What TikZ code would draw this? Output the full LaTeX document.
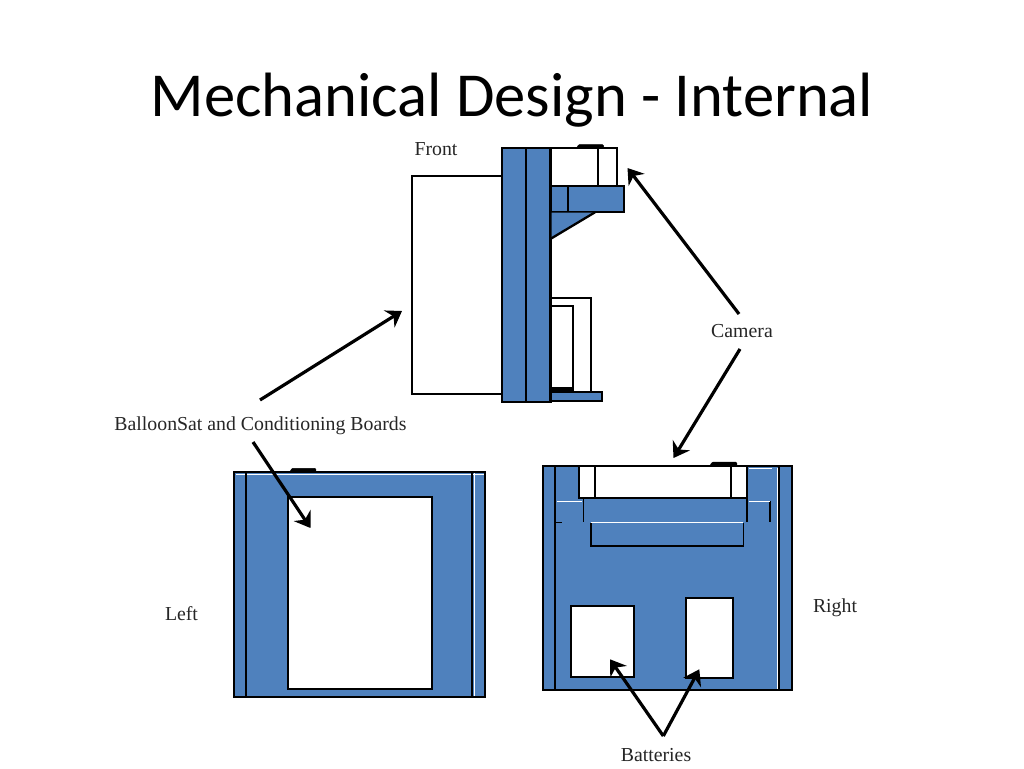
\documentclass[tikz,border=0pt]{standalone}
\usepackage{fontspec}
\setmainfont{Liberation Serif}
\newfontfamily\titlefont{Carlito}
\usetikzlibrary{arrows.meta}
\definecolor{partblue}{HTML}{4F81BD}
\tikzset{
  x=1pt,y=-1pt,
  part/.style={fill=partblue,draw=black,line width=2.3pt},
  hollow/.style={fill=white,draw=black,line width=2.3pt},
  edge/.style={draw=black,line width=2.3pt},
  thinedge/.style={draw=black,line width=1.6pt},
  glint/.style={draw=white,line width=1pt},
  knob/.style={fill=black,draw=black,line width=.5pt,rounded corners=1pt},
  lbl/.style={font=\fontsize{19.8}{21}\selectfont,inner sep=0pt,text=black!85},
  callout/.style={draw=black,line width=3.2pt,-{Stealth[inset=5pt,length=15pt,width=20pt]}},
}
\begin{document}
\begin{tikzpicture}
\useasboundingbox (0,0) rectangle (1024,768);
\fill[white] (0,0) rectangle (1024,768);
\node[font=\titlefont\fontsize{62.6}{64}\selectfont,inner sep=0pt] (title) at (512,100) {Mechanical Design - Internal};

% front view
\draw[hollow] (501.7,175.7) -- (411.7,175.7) -- (411.7,394) -- (501.7,394);
\draw[hollow] (550,148.3) -- (616.7,148.3) -- (616.7,185.7) -- (550,185.7);
\draw[edge] (598.3,148.3) -- (598.3,185.7);
\draw[knob] (576.7,148.3) -- (578.5,144.6) -- (603.3,144.6) -- (604,148.3) -- cycle;
\draw[part] (501.7,148.3) rectangle (550.5,402.3);
\draw[edge] (526,148.3) -- (526,402.3);
\draw[part] (550.5,185.7) rectangle (624,211.7);
\draw[edge] (567.7,185.7) -- (567.7,211.7);
\fill[partblue] (551.5,212.7) -- (594,212.7) -- (551.5,238.3) -- cycle;
\draw[edge] (551.5,238.3) -- (595,212.3);
\draw[edge] (550.5,298.3) -- (590.7,298.3) -- (590.7,391);
\draw[edge] (550.5,306) -- (572.7,306) -- (572.7,391);
\draw[part] (550.5,392) rectangle (601.7,401);
\draw[edge,line width=4pt] (550.5,389) -- (572.7,389);

% left view
\draw[part] (234.3,471.7) rectangle (485,697.3);
\draw[glint] (236,474.2) -- (483.5,474.2);
\draw[edge] (246,471.7) -- (246,697.3);
\draw[edge] (471.7,471.7) -- (471.7,697.3);
\draw[glint] (474,473) -- (474,696);
\draw[hollow] (287.7,496.7) rectangle (431.7,689.3);
\draw[knob] (290,471.7) -- (292,468.3) -- (315.7,468.3) -- (316,471.7) -- cycle;

% right view
\draw[part] (543.3,465.7) rectangle (791.7,690.3);
\draw[edge] (555,465.7) -- (555,690.3);
\draw[edge] (779.3,465.7) -- (779.3,690.3);
\draw[glint] (777.6,468) -- (777.6,688.5);
\draw[hollow] (579.3,465.7) rectangle (746.7,498.3);
\draw[edge] (595,465.7) -- (595,498.3);
\draw[edge] (731,465.7) -- (731,498.3);
\draw[thinedge] (583.3,498.3) -- (583.3,521.7);
\draw[thinedge] (746.7,498.3) -- (746.7,521.7);
\draw[thinedge] (770,501) -- (770,521.7);
\draw[glint] (556.7,501.2) -- (581.7,501.2);
\draw[glint] (748.5,501.2) -- (769.5,501.2);
\draw[glint] (748.5,468.6) -- (771.7,468.6);
\draw[thinedge,line width=.7pt] (556,522.2) -- (561.7,522.2);
\draw[thinedge] (591,522.7) -- (591,545.7) -- (743.3,545.7) -- (743.3,522.7);
\draw[glint] (591,522.7) -- (743.3,522.7);
\draw[knob] (710,465.7) -- (712,462.2) -- (736.7,462.2) -- (737,465.7) -- cycle;
\draw[hollow] (570.7,605.7) rectangle (634.3,677.3);
\draw[hollow] (686,598.3) rectangle (733.3,678.3);

% labels
\node[lbl] (front) at (436,149) {Front};
\node[lbl] (camera) at (742,331) {Camera};
\node[lbl] (boards) at (260.5,426) {BalloonSat and Conditioning Boards};
\node[lbl] (left) at (181.5,614) {Left};
\node[lbl] (right) at (835,608) {Right};
\node[lbl] (batteries) at (656,755) {Batteries};

% arrow ends
\coordinate (tipfrontboards) at (402,311);
\coordinate (tipleftboards) at (310.5,528);
\coordinate (tipcamtop) at (627.5,168);
\coordinate (tipcambottom) at (673.5,458);
\coordinate (tipbatleft) at (610,659.3);
\coordinate (tipbatright) at (699.3,669.3);
\coordinate (startfront) at (260,400);
\coordinate (startleft) at (253,442);
\coordinate (startcamtop) at (739,314);
\coordinate (startcambottom) at (740,349);
\coordinate (apex) at (663.3,736);

\draw[callout] (startfront) -- (tipfrontboards);
\draw[callout] (startleft) -- (tipleftboards);
\draw[callout] (startcamtop) -- (tipcamtop);
\draw[callout] (startcambottom) -- (tipcambottom);
\draw[callout] (apex) -- (tipbatleft);
\draw[callout] (apex) -- (tipbatright);
\end{tikzpicture}
\end{document}
